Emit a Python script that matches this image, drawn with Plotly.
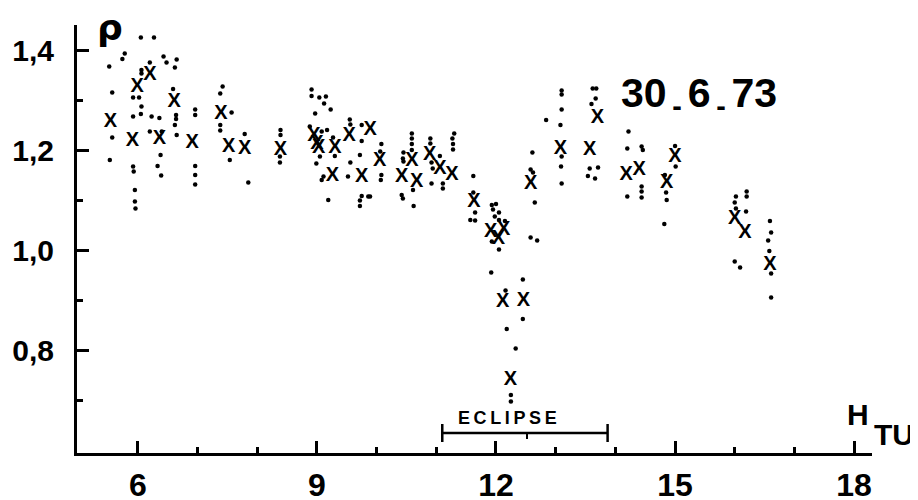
import plotly.graph_objects as go

# ---- data ----
mean_hours = [5.54, 5.91, 5.99, 6.20, 6.36, 6.61, 6.91, 7.39, 7.52, 7.79, 8.39,
              8.95, 9.00, 9.03, 9.30, 9.26, 9.54, 9.75, 9.89, 10.05, 10.42, 10.59,
              10.67, 10.89, 11.06, 11.26, 11.63, 11.91, 12.13, 12.04, 12.11, 12.46,
              12.24, 12.58, 13.08, 13.57, 13.70, 14.18, 14.40, 14.86, 15.00, 16.00,
              16.17, 16.59]
mean_rho = [1.257, 1.219, 1.327, 1.350, 1.223, 1.297, 1.215, 1.272, 1.207, 1.203, 1.201,
            1.228, 1.212, 1.205, 1.205, 1.148, 1.229, 1.147, 1.240, 1.178, 1.146, 1.178,
            1.137, 1.190, 1.163, 1.150, 1.097, 1.036, 1.040, 1.022, 0.897, 0.899,
            0.740, 1.133, 1.203, 1.201, 1.265, 1.150, 1.161, 1.135, 1.187, 1.063,
            1.035, 0.970]

obs_hours = [5.52, 5.57, 5.57, 5.53, 5.74, 5.78,
             6.05, 6.27, 6.20, 6.06, 6.06, 5.92, 6.02, 6.06, 6.05, 5.92, 5.92, 5.93, 5.95, 5.95, 5.96,
             6.23, 6.36, 6.20, 6.40, 6.38, 6.33, 6.39,
             6.43, 6.48, 6.65, 6.62, 6.59, 6.64, 6.64, 6.62, 6.65,
             6.96, 6.96, 6.96, 6.96, 6.96,
             7.42, 7.38, 7.38, 7.38, 7.57, 7.79, 7.54, 7.85,
             8.39, 8.39, 8.38, 8.38,
             8.91, 8.91, 9.04, 9.15, 9.12, 9.23, 8.97, 8.88, 9.08, 9.17, 8.99, 9.05, 9.08, 9.11, 9.19, 9.27, 9.30,
             9.55, 9.56, 9.56, 9.52,
             9.75, 9.75, 9.72, 9.75, 9.72, 9.72, 9.86,
             10.08, 10.06, 10.08, 10.07, 9.89,
             10.59, 10.59, 10.59, 10.59, 10.45, 10.44, 10.45, 10.42, 10.44, 10.61, 10.62,
             10.90, 10.90, 10.92, 10.94, 10.92,
             11.06, 11.11, 11.11,
             11.30, 11.27, 11.28, 11.28,
             11.62, 11.62, 11.65, 11.57, 11.65,
             11.93, 12.00, 11.95, 12.05, 11.98, 12.05, 12.15, 11.93, 12.05, 11.92, 12.16, 12.18, 12.33, 12.25, 12.25,
             12.45, 12.45,
             12.61, 12.58, 12.62, 12.65, 12.58, 12.69, 12.84,
             13.10, 13.10, 13.10, 13.08, 13.10, 13.09, 13.10,
             13.62, 13.68, 13.67, 13.60, 13.57, 13.71, 13.54, 13.66,
             14.22, 14.20, 14.20,
             14.44, 14.46, 14.44, 14.44, 14.44,
             14.83, 14.85, 14.86, 14.82,
             15.00, 15.01,
             16.02, 16.00, 16.02, 16.20, 16.20, 16.19, 16.00, 16.09,
             16.59, 16.61, 16.56, 16.58, 16.61, 16.61]
obs_rho = [1.367, 1.315, 1.225, 1.180, 1.382, 1.393,
           1.425, 1.425, 1.375, 1.360, 1.353, 1.305, 1.305, 1.287, 1.272, 1.267, 1.167, 1.157, 1.120, 1.097, 1.083,
           1.267, 1.264, 1.237, 1.237, 1.190, 1.168, 1.149,
           1.387, 1.375, 1.381, 1.365, 1.322, 1.270, 1.262, 1.250, 1.230,
           1.281, 1.270, 1.168, 1.150, 1.131,
           1.327, 1.313, 1.250, 1.239, 1.275, 1.232, 1.180, 1.135,
           1.240, 1.230, 1.187, 1.175,
           1.321, 1.308, 1.305, 1.307, 1.293, 1.281, 1.273, 1.247, 1.237, 1.240, 1.173, 1.187, 1.140, 1.147, 1.100, 1.225, 1.188,
           1.261, 1.251, 1.175, 1.147,
           1.250, 1.218, 1.190, 1.108, 1.099, 1.088, 1.107,
           1.212, 1.197, 1.150, 1.140, 1.107,
           1.233, 1.223, 1.212, 1.200, 1.195, 1.183, 1.177, 1.110, 1.103, 1.120, 1.088,
           1.223, 1.213, 1.175, 1.163, 1.133,
           1.188, 1.133, 1.123,
           1.233, 1.223, 1.212, 1.201,
           1.148, 1.115, 1.075, 1.060, 1.059,
           1.090, 1.092, 1.081, 1.075, 1.067, 1.060, 1.058, 1.017, 1.001, 0.955, 0.919, 0.842, 0.803, 0.710, 0.697,
           0.941, 0.862,
           1.195, 1.161, 1.155, 1.095, 1.025, 1.019, 1.260,
           1.319, 1.311, 1.281, 1.250, 1.187, 1.167, 1.133,
           1.323, 1.323, 1.303, 1.292, 1.163, 1.165, 1.148, 1.143,
           1.237, 1.203, 1.107,
           1.207, 1.200, 1.127, 1.117, 1.105,
           1.150, 1.115, 1.100, 1.052,
           1.208, 1.167,
           1.107, 1.095, 1.083, 1.117, 1.107, 1.077, 0.977, 0.965,
           1.058, 1.035, 1.019, 0.998, 0.953, 0.905]

x_tick_vals = [6, 9, 12, 15, 18]
x_tick_text = ["6", "9", "12", "15", "18"]
x_minor_vals = [7, 8, 10, 11, 13, 14, 16, 17]
y_tick_vals = [0.8, 1.0, 1.2, 1.4]
y_tick_text = ["0,8", "1,0", "1,2", "1,4"]
y_minor_vals = [0.7, 0.9, 1.1, 1.3]

eclipse_start = 11.1
eclipse_end = 13.87
eclipse_mid = 12.52
date_label = "30<sub>\u2009-\u2009</sub>6<sub>\u2009-\u2009</sub>73"

# ---- figure ----
fig = go.Figure()
fig.add_trace(go.Scatter(
    x=obs_hours, y=obs_rho, mode="markers",
    marker=dict(symbol="circle", size=4.5, color="black"),
    hoverinfo="skip", showlegend=False))
fig.add_trace(go.Scatter(
    x=mean_hours, y=mean_rho, mode="text", text=["<b>X</b>"] * len(mean_hours),
    textposition="middle center",
    textfont=dict(family="Liberation Sans", size=20, color="black"),
    showlegend=False))

BAR_Y = 0.634
CAP = 0.018
line_style = dict(color="black", width=2.5)
fig.add_shape(type="line", xref="x", yref="y", x0=eclipse_start, x1=eclipse_end,
              y0=BAR_Y, y1=BAR_Y, line=line_style)
fig.add_shape(type="line", xref="x", yref="y", x0=eclipse_start, x1=eclipse_start,
              y0=BAR_Y - CAP, y1=BAR_Y + CAP, line=line_style)
fig.add_shape(type="line", xref="x", yref="y", x0=eclipse_end, x1=eclipse_end,
              y0=BAR_Y - CAP, y1=BAR_Y + CAP, line=line_style)
fig.add_shape(type="line", xref="x", yref="y", x0=eclipse_mid, x1=eclipse_mid,
              y0=BAR_Y - 0.012, y1=BAR_Y, line=dict(color="black", width=2))

fig.add_annotation(x=(eclipse_start + eclipse_end) / 2 - 0.3, y=0.664, xref="x", yref="y",
                   text="<b>E\u2009C\u2009L\u2009I\u2009P\u2009S\u2009E</b>", showarrow=False,
                   font=dict(family="Liberation Sans", size=18, color="black"))

fig.add_annotation(x=0.0415, y=0.993, xref="paper", yref="paper", text="<b>ρ</b>",
                   showarrow=False, xanchor="center", yanchor="middle",
                   font=dict(family="DejaVu Sans", size=36, color="black"))
fig.add_annotation(x=0.966, y=0.091, xref="paper", yref="paper", text="<b>H</b>",
                   showarrow=False, xanchor="left", yanchor="middle",
                   font=dict(family="Liberation Sans", size=30, color="black"))
fig.add_annotation(x=1.0, y=0.044, xref="paper", yref="paper", text="<b>TU</b>",
                   showarrow=False, xanchor="left", yanchor="middle",
                   font=dict(family="Liberation Sans", size=30, color="black"))
fig.add_annotation(x=0.782, y=0.834, xref="paper", yref="paper", text="<b>" + date_label + "</b>",
                   showarrow=False, xanchor="center", yanchor="middle",
                   font=dict(family="Liberation Sans", size=41, color="black"))

fig.update_xaxes(range=[4.98, 18.3], showline=True, linecolor="black", linewidth=3,
                 showgrid=False, zeroline=False, automargin=False,
                 tickmode="array", tickvals=x_tick_vals, ticktext=x_tick_text,
                 ticks="inside", ticklen=12, tickwidth=2.5, tickcolor="black",
                 ticklabelstandoff=2,
                 tickfont=dict(family="Liberation Sans", size=32, color="black", weight="bold"),
                 minor=dict(tickmode="array", tickvals=x_minor_vals, ticks="inside",
                            ticklen=6, tickwidth=2.5, tickcolor="black", showgrid=False))
fig.update_yaxes(range=[0.594, 1.45], showline=True, linecolor="black", linewidth=3,
                 showgrid=False, zeroline=False, automargin=False,
                 tickmode="array", tickvals=y_tick_vals, ticktext=y_tick_text,
                 ticks="inside", ticklen=12, tickwidth=2.5, tickcolor="black",
                 ticklabelstandoff=14,
                 tickfont=dict(family="Liberation Sans", size=30, color="black", weight="bold"),
                 minor=dict(tickmode="array", tickvals=y_minor_vals, ticks="inside",
                            ticklen=6, tickwidth=2.5, tickcolor="black", showgrid=False))

# page body has an 8px default margin: figure is 8px smaller, left/top margins compensate
fig.update_layout(width=910, height=492, plot_bgcolor="white", paper_bgcolor="white",
                  margin=dict(l=69, r=46, t=17, b=47), showlegend=False)

fig.write_html("out.html")
